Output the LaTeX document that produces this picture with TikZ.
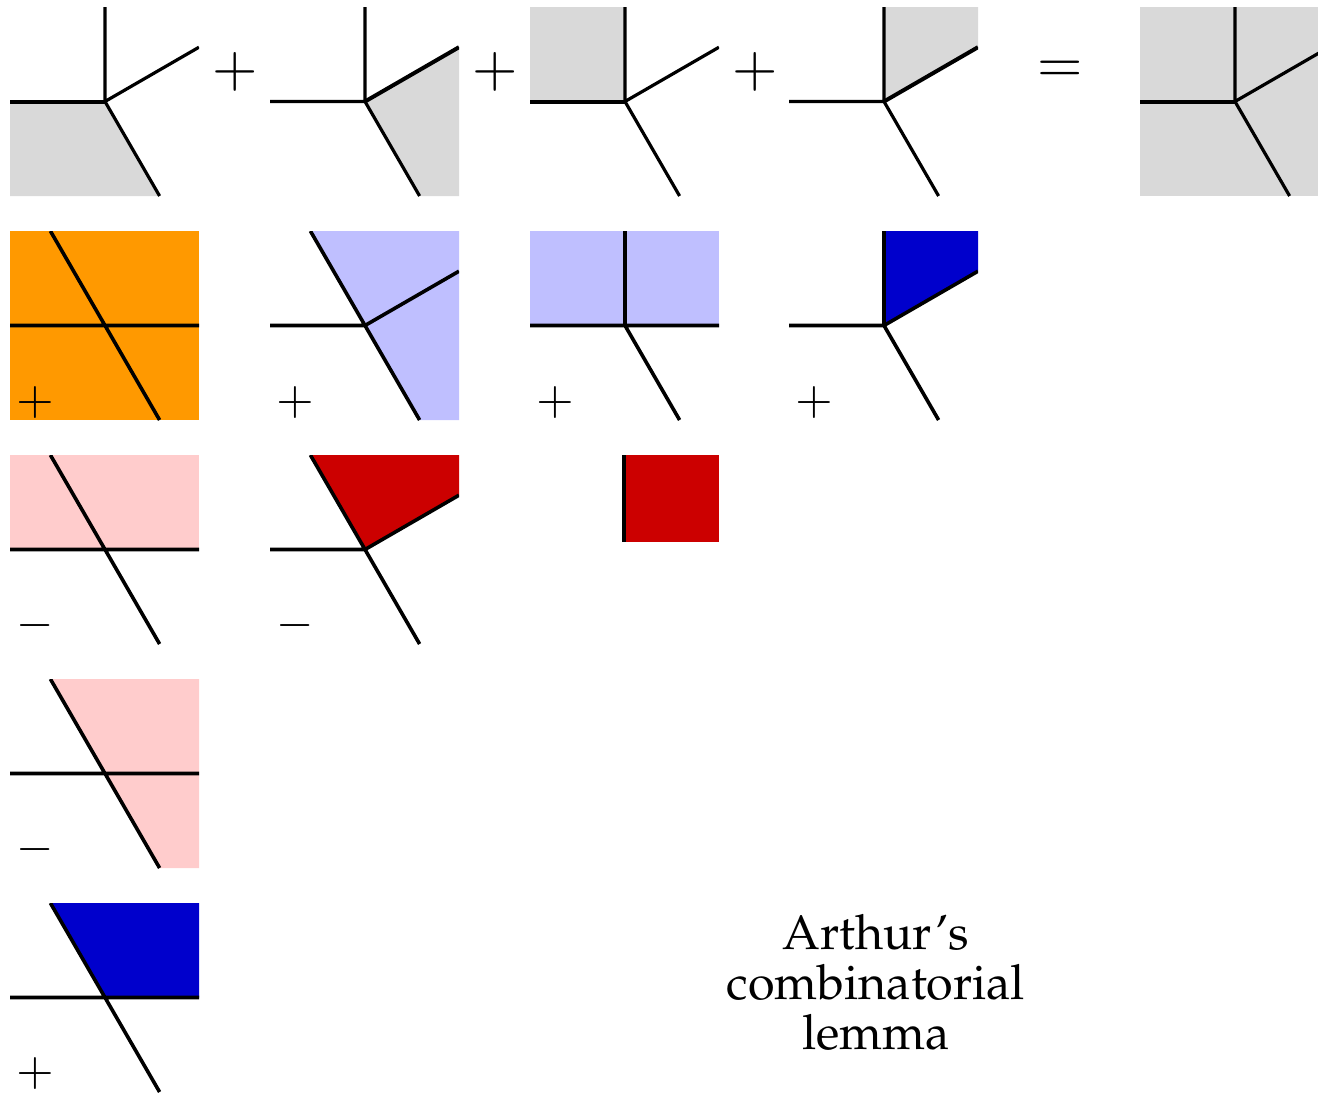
\documentclass[tikz,border=0pt]{standalone}
\usepackage[T1]{fontenc}
\usepackage{mathpazo}
\definecolor{shgray}{RGB}{217,217,217}
\definecolor{orng}{RGB}{255,153,0}
\definecolor{lav}{RGB}{191,191,255}
\definecolor{dblue}{RGB}{0,0,204}
\definecolor{pinkc}{RGB}{255,204,204}
\definecolor{dred}{RGB}{204,0,0}
\tikzset{
  fan/.style={line width=3.2pt},
  bnd/.style={line width=4pt},
  ln/.style={line width=3.6pt},
  bigsign/.style={font=\fontsize{56}{60}\selectfont, inner sep=0pt},
  sign/.style={font=\fontsize{46}{50}\selectfont, inner sep=0pt},
}
\newcommand\setpts{%
 \coordinate (O) at (0,0);
 \coordinate (L) at (-95,0);
 \coordinate (R) at (94,0);
 \coordinate (U) at (0,-94.5);
 \coordinate (A) at (94,-54.3);
 \coordinate (D) at (54.6,94.5);
 \coordinate (T) at (-54.6,-94.5);
 \coordinate (TL) at (-95,-94.5);
 \coordinate (TR) at (94,-94.5);
 \coordinate (BR) at (94,94.5);
 \coordinate (BL) at (-95,94.5);
 \clip (TL) rectangle (BR);}
\begin{document}
\begin{tikzpicture}[x=1pt,y=-1pt]
\useasboundingbox (0,0) rectangle (1318,1093);
\clip (0,0) rectangle (1318,1093);
% ---------- row 1 ----------
\begin{scope}[shift={(105,101.5)}]\setpts
 \fill[shgray] (L) -- (O) -- (D) -- (BL) -- cycle;
 \draw[fan] (O) -- (U) (O) -- (A) (O) -- (D);
 \draw[bnd] (L) -- (O);
\end{scope}
\begin{scope}[shift={(365,101.5)}]\setpts
 \fill[shgray] (O) -- (A) -- (BR) -- (D) -- cycle;
 \draw[fan] (L) -- (O) (O) -- (U) (O) -- (D);
 \draw[bnd] (O) -- (A);
\end{scope}
\begin{scope}[shift={(625,101.5)}]\setpts
 \fill[shgray] (TL) -- (U) -- (O) -- (L) -- cycle;
 \draw[fan] (O) -- (U) (O) -- (A) (O) -- (D);
 \draw[bnd] (L) -- (O);
\end{scope}
\begin{scope}[shift={(884,101.5)}]\setpts
 \fill[shgray] (O) -- (U) -- (TR) -- (A) -- cycle;
 \draw[fan] (L) -- (O) (O) -- (U) (O) -- (D);
 \draw[bnd] (O) -- (A);
\end{scope}
\begin{scope}[shift={(1235,101.5)}]\setpts
 \fill[shgray] (TL) rectangle (BR);
 \draw[fan] (O) -- (U) (O) -- (A) (O) -- (D);
 \draw[bnd] (L) -- (O);
\end{scope}
\node[bigsign] (p1) at (235,72) {$+$};
\node[bigsign] (p2) at (495,72) {$+$};
\node[bigsign] (p3) at (755,72) {$+$};
\node[bigsign] (eq) at (1060,72) {$=$};
% ---------- row 2 ----------
\begin{scope}[shift={(105,325.5)}]\setpts
 \fill[orng] (TL) rectangle (BR);
 \draw[ln] (L) -- (R) (T) -- (D);
\end{scope}
\begin{scope}[shift={(365,325.5)}]\setpts
 \fill[lav] (T) -- (TR) -- (BR) -- (D) -- cycle;
 \draw[ln] (L) -- (O) (T) -- (D) (O) -- (A);
\end{scope}
\begin{scope}[shift={(625,325.5)}]\setpts
 \fill[lav] (TL) -- (TR) -- (R) -- (L) -- cycle;
 \draw[ln] (L) -- (R) (O) -- (U) (O) -- (D);
\end{scope}
\begin{scope}[shift={(884,325.5)}]\setpts
 \fill[dblue] (O) -- (U) -- (TR) -- (A) -- cycle;
 \draw[ln] (L) -- (O) (O) -- (U) (O) -- (A) (O) -- (D);
\end{scope}
\node[sign] (s21) at (35,402.5) {$+$};
\node[sign] (s22) at (295,402.5) {$+$};
\node[sign] (s23) at (555,402.5) {$+$};
\node[sign] (s24) at (814,402.5) {$+$};
% ---------- row 3 ----------
\begin{scope}[shift={(105,549.5)}]\setpts
 \fill[pinkc] (TL) -- (TR) -- (R) -- (L) -- cycle;
 \draw[ln] (L) -- (R) (T) -- (D);
\end{scope}
\begin{scope}[shift={(365,549.5)}]\setpts
 \fill[dred] (O) -- (T) -- (TR) -- (A) -- cycle;
 \draw[ln] (L) -- (O) (T) -- (D) (O) -- (A);
\end{scope}
\begin{scope}[shift={(625,549.5)}]\setpts
 \coordinate (RB) at (94,-8);
 \coordinate (LT) at (-1,-94.5);
 \coordinate (LB) at (-1,-8);
 \fill[dred] (LT) rectangle (RB);
 \draw[ln] (LT) -- (LB);
\end{scope}
\node[sign] (s31) at (35,626) {$-$};
\node[sign] (s32) at (295,626) {$-$};
% ---------- row 4 ----------
\begin{scope}[shift={(105,773.5)}]\setpts
 \fill[pinkc] (T) -- (TR) -- (BR) -- (D) -- cycle;
 \draw[ln] (L) -- (R) (T) -- (D);
\end{scope}
\node[sign] (s41) at (35,850) {$-$};
% ---------- row 5 ----------
\begin{scope}[shift={(105,997.5)}]\setpts
 \fill[dblue] (T) -- (TR) -- (R) -- (O) -- cycle;
 \draw[ln] (L) -- (R) (T) -- (D);
\end{scope}
\node[sign] (s51) at (35,1074) {$+$};
% ---------- caption ----------
\node[align=center, font=\fontsize{48.5}{50}\selectfont, inner sep=0pt] (cap) at (876,982) {Arthur's\\combinatorial\\lemma};
\end{tikzpicture}
\end{document}
